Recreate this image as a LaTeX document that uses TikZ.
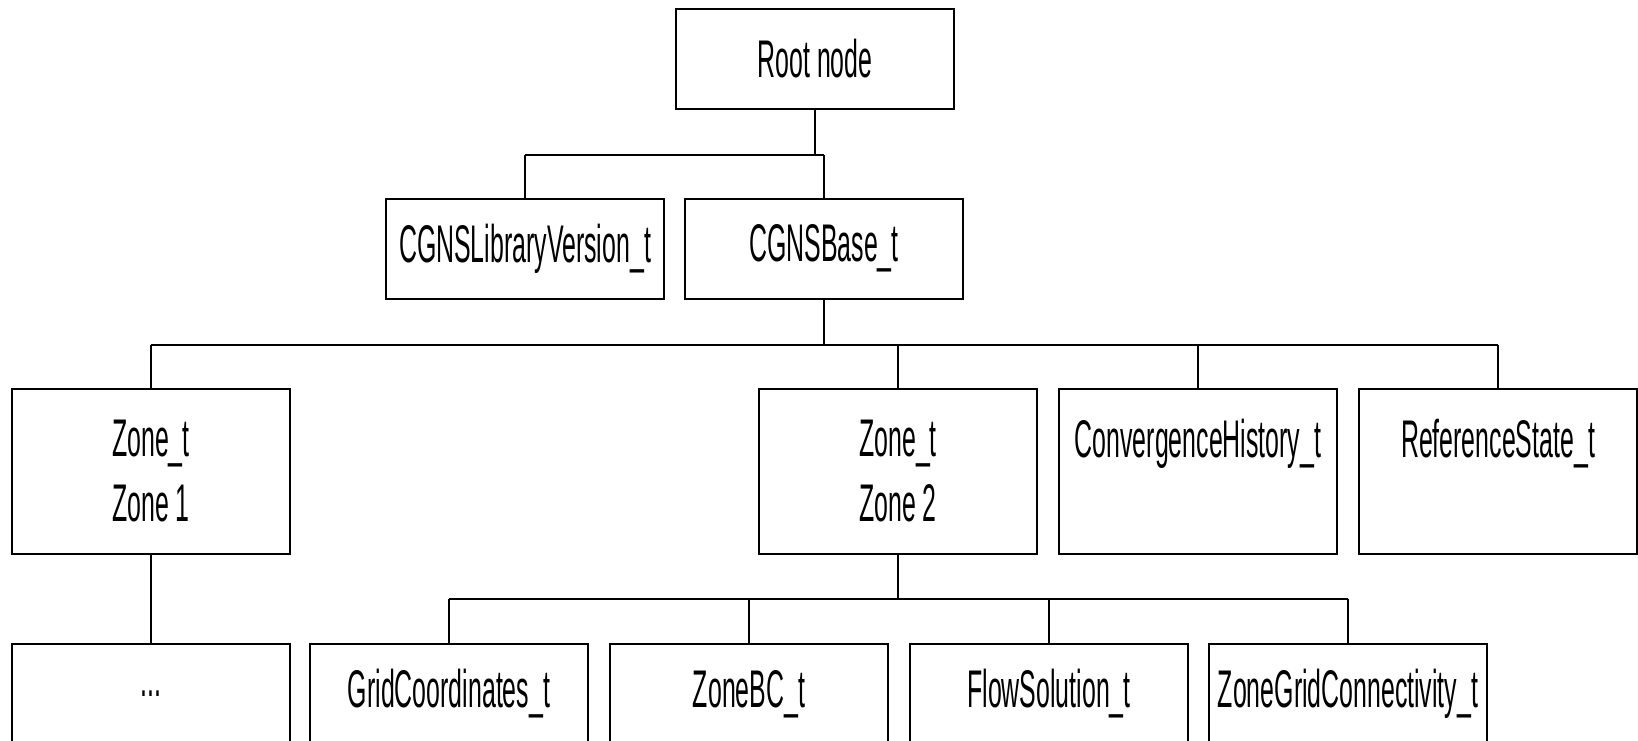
\documentclass[tikz,border=0pt]{standalone}
\usepackage{fontspec}
\setmainfont[FakeStretch=0.47]{Liberation Sans}
\begin{document}
\begin{tikzpicture}[x=1pt,y=-1pt,
  box/.style={draw=black,line width=2pt,fill=white,minimum width=278pt,minimum height=100pt,
    inner sep=0pt,align=center,font=\fontsize{53}{65}\selectfont},
  tallbox/.style={box,minimum height=165pt},
  bus/.style={line width=2pt},
  drop/.style={line width=1.2pt}]
\useasboundingbox (0,0) rectangle (1638,741);
% row 1
\node[box] (root) at (815,59) {Root node};
% row 2
\node[box] (lib) at (525,248.5) {CGNSLibraryVersion\_t};
\node[box] (base) at (824,248.5) {CGNSBase\_t};
% row 3
\node[tallbox] (zone1) at (151,471.5) {Zone\_t\\Zone 1};
\node[tallbox] (zone2) at (898,471.5) {Zone\_t\\Zone 2};
\node[tallbox] (conv) at (1198,471.5) {ConvergenceHistory\_t\\\phantom{Zone 1}};
\node[tallbox] (ref) at (1498,471.5) {ReferenceState\_t\\\phantom{Zone 1}};
% row 4
\node[box] (dots) at (151,694) {...};
\node[box] (grid) at (449,694) {GridCoordinates\_t};
\node[box] (zbc) at (749,694) {ZoneBC\_t};
\node[box] (flow) at (1049,694) {FlowSolution\_t};
\node[box] (zgc) at (1348,694) {ZoneGridConnectivity\_t};
% bus coordinates
\coordinate (b1) at (815,155);
\coordinate (b2) at (824,345);
\coordinate (b3) at (898,599);
% root -> row 2
\draw[bus] (root.south) -- (b1);
\draw[bus] (lib.north |- b1) -- (base.north |- b1);
\draw[drop] (lib.north |- b1) -- (lib.north);
\draw[drop] (base.north |- b1) -- (base.north);
% base -> row 3
\draw[bus] (base.south) -- (b2);
\draw[bus] (zone1.north |- b2) -- (ref.north |- b2);
\foreach \n in {zone1,zone2,conv,ref} \draw[drop] (\n.north |- b2) -- (\n.north);
% zone1 -> dots
\draw[drop] (zone1.south) -- (dots.north);
% zone2 -> row 4
\draw[bus] (zone2.south) -- (b3);
\draw[bus] (grid.north |- b3) -- (zgc.north |- b3);
\foreach \n in {grid,zbc,flow,zgc} \draw[drop] (\n.north |- b3) -- (\n.north);
\end{tikzpicture}
\end{document}
